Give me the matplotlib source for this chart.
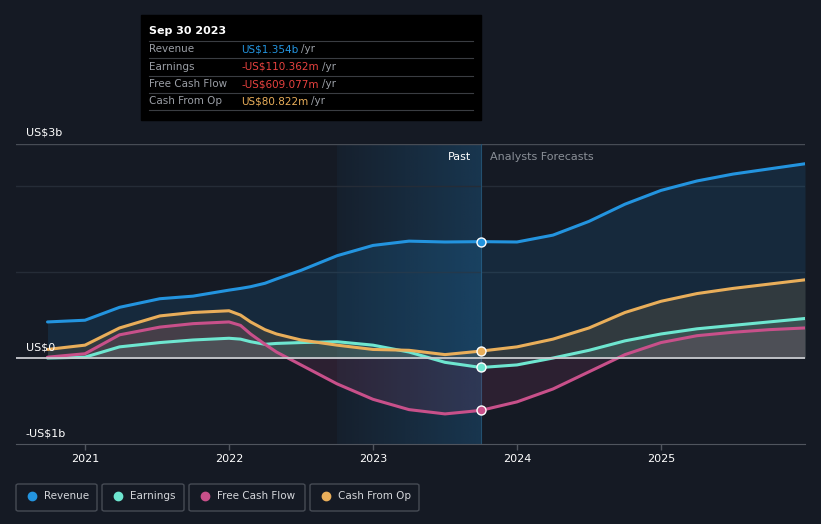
import numpy as np
import matplotlib.pyplot as plt
from matplotlib.patches import Rectangle, FancyBboxPatch
from matplotlib.lines import Line2D
from matplotlib.colors import to_rgb

W, H = 821, 524

# years (decimal) and values in US$ billions
years = [2020.74, 2021.0, 2021.24, 2021.52, 2021.75, 2022.0, 2022.08, 2022.15, 2022.25,
         2022.33, 2022.5, 2022.75, 2023.0, 2023.25, 2023.5, 2023.75, 2024.0, 2024.25,
         2024.5, 2024.75, 2025.0, 2025.25, 2025.5, 2025.75, 2026.0]
revenue = [0.42, 0.44, 0.59, 0.69, 0.72, 0.79, 0.81, 0.83, 0.87, 0.92, 1.02, 1.19, 1.31,
           1.36, 1.35, 1.354, 1.35, 1.43, 1.59, 1.79, 1.95, 2.06, 2.14, 2.20, 2.26]
earnings = [0.0, 0.01, 0.13, 0.18, 0.21, 0.23, 0.22, 0.19, 0.16, 0.17, 0.18, 0.19, 0.15,
            0.07, -0.05, -0.110, -0.08, 0.0, 0.09, 0.20, 0.28, 0.34, 0.38, 0.42, 0.46]
fcf = [0.01, 0.05, 0.27, 0.36, 0.40, 0.42, 0.38, 0.28, 0.16, 0.07, -0.08, -0.30, -0.48,
       -0.60, -0.65, -0.609, -0.51, -0.36, -0.16, 0.04, 0.18, 0.26, 0.30, 0.33, 0.35]
cfo = [0.10, 0.15, 0.35, 0.49, 0.53, 0.55, 0.50, 0.42, 0.33, 0.28, 0.21, 0.15, 0.10,
       0.09, 0.04, 0.081, 0.13, 0.22, 0.35, 0.53, 0.66, 0.75, 0.81, 0.86, 0.91]

series = [("Revenue", revenue, "#2394df"),
          ("Earnings", earnings, "#6ee6d0"),
          ("Free Cash Flow", fcf, "#c8508a"),
          ("Cash From Op", cfo, "#e9ae5a")]

tooltip = [("Revenue", "US$1.354b", "#2394df"),
           ("Earnings", "-US$110.362m", "#e8423f"),
           ("Free Cash Flow", "-US$609.077m", "#e8423f"),
           ("Cash From Op", "US$80.822m", "#e9ae5a")]

bg = "#151a24"
fig = plt.figure(figsize=(W / 100, H / 100), dpi=100, facecolor=bg)


def fx(x):
    return x / W


def fy(y):
    return 1 - y / H


ax = fig.add_axes([fx(16), fy(444), fx(789), 300 / H])
ax.set_facecolor(bg)
ax.set_xlim(2020.521, 2026.0)
ax.set_ylim(-1, 2.49)

# past shading (gradient, brighter toward the divider)
grad = np.zeros((1, 200, 4))
grad[..., :3] = to_rgb("#1e6496")
grad[..., 3] = np.linspace(0.08, 0.38, 200)
ax.imshow(grad, extent=[2022.75, 2023.75, -1, 2.49], aspect="auto", zorder=0,
          interpolation="bilinear")
ax.axvline(2023.75, color="#23506f", lw=0.8, zorder=1)

# gridlines
for v in (1, 2):
    ax.axhline(v, color="#252c37", lw=1, zorder=0.5)
ax.axhline(2.49, color="#474c55", lw=1, zorder=0.5)

for name, vals, c in series:
    ax.fill_between(years, vals, 0, color=c, alpha=0.13, lw=0, zorder=1)
for name, vals, c in series:
    ax.plot(years, vals, color=c, lw=2.2, zorder=3, solid_capstyle="round",
            solid_joinstyle="round")
    ax.scatter([2023.75], [vals[years.index(2023.75)]], s=42, color=c,
               edgecolor="white", linewidth=1, zorder=5)

ax.axhline(0, color="#c9cbcf", lw=1.3, zorder=4)

for s in ("top", "right", "left"):
    ax.spines[s].set_visible(False)
ax.spines["bottom"].set_color("#50555e")
ax.set_yticks([])
ax.set_xticks([2021, 2022, 2023, 2024, 2025])
ax.set_xticklabels(["2021", "2022", "2023", "2024", "2025"])
ax.tick_params(axis="x", colors="#50555e", labelcolor="white", labelsize=8,
               length=4, width=1)

# y labels
ax.text(2020.59, 2.56, "US$3b", color="white", fontsize=8, va="bottom")
ax.text(2020.59, 0.06, "US$0", color="white", fontsize=8, va="bottom")
ax.text(2020.59, -0.94, "-US$1b", color="white", fontsize=8, va="bottom")

ax.text(2023.68, 2.34, "Past", color="white", fontsize=8, ha="right", va="center")
ax.text(2023.81, 2.34, "Analysts Forecasts", color="#8a8f97", fontsize=8,
        ha="left", va="center")

# tooltip box
fig.patches.append(Rectangle((fx(141), fy(120)), fx(340), 105 / H, color="black",
                             transform=fig.transFigure, zorder=10))
fig.text(fx(149), fy(31), "Sep 30 2023", color="white", fontsize=8,
         fontweight="bold", va="center", zorder=11)
for yy in (41, 58, 76, 93, 110):
    fig.add_artist(Line2D([fx(149), fx(473)], [fy(yy), fy(yy)], color="#3a3d42",
                          lw=0.8, zorder=11))
for i, (lab, val, c) in enumerate(tooltip):
    yy = 49.5 + i * 17.3
    fig.text(fx(149), fy(yy), lab, color="#9a9ea5", fontsize=7.5, va="center", zorder=11)
    t = fig.text(fx(241), fy(yy), val, color=c, fontsize=7.5, va="center", zorder=11)
    fig.canvas.draw()
    bb = t.get_window_extent()
    fig.text(bb.x1 / W + fx(3), fy(yy), "/yr", color="#9a9ea5", fontsize=7.5,
             va="center", zorder=11)

# legend boxes
legend_boxes = [(16, 97), (102, 184), (189, 305), (310, 419)]
for (x0, x1), (name, vals, c) in zip(legend_boxes, series):
    fig.patches.append(FancyBboxPatch((fx(x0), fy(511)), fx(x1 - x0), 27 / H,
                                      boxstyle="round,pad=0,rounding_size=0.003",
                                      facecolor="none", edgecolor="#464b54", lw=1,
                                      transform=fig.transFigure))
    fig.add_artist(Line2D([fx(x0 + 16)], [fy(496)], marker="o", markersize=6,
                          color=c, lw=0))
    fig.text(fx(x0 + 28), fy(496), name, color="#d4d6da", fontsize=7.5, va="center")

fig.savefig("out.png", dpi=100, facecolor=bg)
